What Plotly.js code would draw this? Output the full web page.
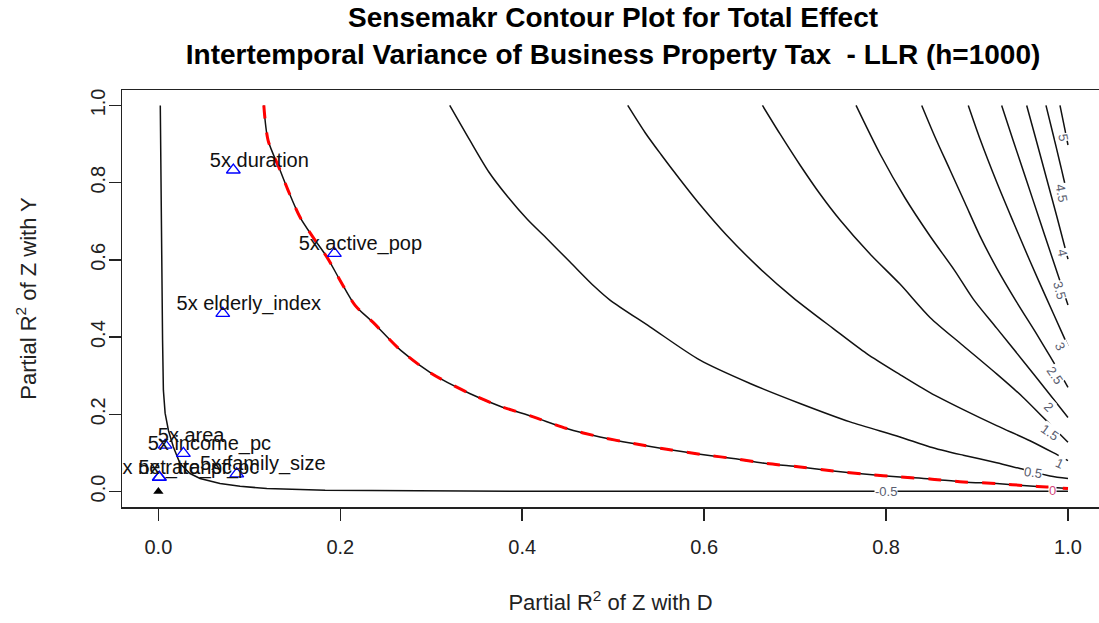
<!DOCTYPE html>
<html><head><meta charset="utf-8">
<script src="https://cdn.plot.ly/plotly-3.0.1.min.js"></script>
<style>html,body{margin:0;padding:0;background:#fff;}#chart{width:1099px;height:623px;}</style>
</head><body><div id="chart"></div>
<script>
// ---- contour lines (x = partial R2 of Z with D, y = partial R2 of Z with Y)
const levM05_x = [0.0021,0.0026,0.0037,0.0046,0.0055,0.0074,0.0110,0.0165,0.0238,0.0348,0.0458,0.0678,0.0898,0.1192,0.1833,0.2657,0.4042,1.0];
const levM05_y = [1.0,0.8328,0.6255,0.3922,0.2626,0.2030,0.1589,0.1156,0.0726,0.0467,0.0337,0.0207,0.0137,0.0078,0.0034,0.0021,0.0008,0.0005];
const lev0_x = [0.1159,0.1206,0.1338,0.1426,0.1558,0.1701,0.1855,0.1998,0.2163,0.2361,0.2665,0.3002,0.3422,0.3756,0.4122,0.4489,0.4855,0.5222,0.5589,0.5955,0.6321,0.6688,0.7055,0.7420,0.7787,0.8153,0.8483,0.8849,0.9216,0.9582,0.9766,1.0];
const lev0_y = [1.0,0.9098,0.8321,0.7802,0.7102,0.6584,0.6065,0.5469,0.4821,0.4380,0.3655,0.3059,0.2540,0.2211,0.1934,0.1633,0.1415,0.1244,0.1096,0.0967,0.0855,0.0726,0.0638,0.0534,0.0448,0.0378,0.0327,0.0249,0.0207,0.0145,0.0119,0.0078];
const lev05_x = [0.3203,0.3422,0.3633,0.3843,0.4053,0.4264,0.4526,0.4800,0.4965,0.5405,0.5955,0.6505,0.7054,0.7604,0.8153,0.8483,0.8849,0.9216,0.9472,0.9802,1.0];
const lev05_y = [1.0,0.9106,0.8276,0.7628,0.7058,0.6566,0.5944,0.5296,0.4959,0.4266,0.3403,0.2799,0.2281,0.1804,0.1415,0.1156,0.0941,0.0747,0.0596,0.0404,0.0337];
const lev1_x = [0.5160,0.5350,0.5526,0.5735,0.5944,0.6240,0.6614,0.6977,0.7420,0.7787,0.8153,0.8483,0.8849,0.9216,0.9582,0.9838,1.0];
const lev1_y = [1.0,0.9300,0.8730,0.8082,0.7460,0.6657,0.5775,0.5024,0.4220,0.3572,0.3028,0.2561,0.2120,0.1706,0.1317,0.1006,0.0799];
const lev15_x = [0.6641,0.6834,0.7054,0.7274,0.7494,0.7824,0.8153,0.8483,0.8845,0.9219,0.9505,0.9692,0.9912,1.0];
const lev15_y = [1.0,0.9262,0.8458,0.7706,0.7032,0.6151,0.5373,0.4510,0.3784,0.3040,0.2444,0.2004,0.1486,0.1278];
const lev2_x = [0.7670,0.7934,0.8209,0.8483,0.8758,0.8959,0.9216,0.9509,0.9783,1.0];
const lev2_y = [1.0,0.8743,0.7603,0.6619,0.5711,0.4985,0.4233,0.3377,0.2566,0.1918];
const lev25_x = [0.8392,0.8538,0.8703,0.8868,0.9033,0.9216,0.9429,0.9656,0.9802,0.9912,1.0];
const lev25_y = [1.0,0.9184,0.8328,0.7473,0.6617,0.5788,0.4933,0.4077,0.3507,0.3066,0.2696];
const lev3_x = [0.8904,0.9033,0.9216,0.9399,0.9582,0.9758,0.9931,1.0];
const lev3_y = [1.0,0.9132,0.8017,0.6980,0.5970,0.5036,0.4129,0.3765];
const lev35_x = [0.9271,0.9399,0.9546,0.9692,0.9802,0.9890,1.0];
const lev35_y = [1.0,0.9080,0.8043,0.7006,0.6229,0.5607,0.4829];
const lev4_x = [0.9546,0.9656,0.9766,0.9876,0.9948,1.0];
const lev4_y = [1.0,0.9054,0.8095,0.7136,0.6488,0.6021];
const lev45_x = [0.9758,0.9838,0.9912,0.9956,1.0];
const lev45_y = [1.0,0.9235,0.8510,0.8069,0.7628];
const lev5_x = [0.9912,0.9967,1.0];
const lev5_y = [1.0,0.9365,0.8976];

// ---- contour labels
const contourLabelText = ["-0.5","0","0.5","1","1.5","2","2.5","3","3.5","4","4.5","5"];
const contourLabelX = [0.800,0.9835,0.9615,0.9912,0.9802,0.9783,0.9857,0.9912,0.9912,0.9945,0.9934,0.9945];
const contourLabelY = [0.0,0.002,0.0492,0.0726,0.154,0.2197,0.3013,0.3748,0.5218,0.6177,0.7732,0.9157];

// ---- benchmark bounds
const benchLabels = ["5x duration","5x active_pop","5x elderly_index","5x area","5x income_pc","5x family_size","5x net_transf_pc","5x rate_pc"];
const benchR2dz = [0.0824,0.1935,0.0708,0.0074,0.0275,0.0862,0.0010,0.0010];
const benchR2yz = [0.8328,0.6169,0.4614,0.1200,0.0990,0.0460,0.0370,0.0370];
const unadjR2dz = [0];
const unadjR2yz = [0];

// ---- axis ticks
const xTickVals = [0,0.2,0.4,0.6,0.8,1.0];
const xTickText = ["0.0","0.2","0.4","0.6","0.8","1.0"];
const yTickVals = [0,0.2,0.4,0.6,0.8,1.0];
const yTickText = ["0.0","0.2","0.4","0.6","0.8","1.0"];

const FONT = "Liberation Sans, Arial, Helvetica, sans-serif";
const lines = [
  [levM05_x, levM05_y, 'linear'],
  [lev0_x, lev0_y, 'spline'],
  [lev05_x, lev05_y, 'spline'],
  [lev1_x, lev1_y, 'spline'],
  [lev15_x, lev15_y, 'spline'],
  [lev2_x, lev2_y, 'spline'],
  [lev25_x, lev25_y, 'spline'],
  [lev3_x, lev3_y, 'spline'],
  [lev35_x, lev35_y, 'spline'],
  [lev4_x, lev4_y, 'spline'],
  [lev45_x, lev45_y, 'spline'],
  [lev5_x, lev5_y, 'spline']
];
const traces = [];
lines.forEach(function(l){
  traces.push({x:l[0], y:l[1], type:'scatter', mode:'lines', line:{color:'#111', width:1.5, shape:l[2], smoothing:0.8}, hoverinfo:'skip'});
});
// threshold (0) contour: red dashed over black
traces.push({x:lev0_x, y:lev0_y, type:'scatter', mode:'lines', line:{color:'#ff0000', width:3, dash:'13px,14px', shape:'spline', smoothing:0.8}, hoverinfo:'skip'});
// benchmark points
traces.push({x:benchR2dz, y:benchR2yz, type:'scatter', mode:'markers', marker:{symbol:'triangle-up-open', size:12, color:'#0000ff', line:{width:1.3, color:'#0000ff'}}, hoverinfo:'skip'});
// benchmark labels (bumped right/up, clipped to the plot region like R)
const bumpX = 0.0286, bumpY = 0.022;
traces.push({x:benchR2dz.map(v=>v+bumpX), y:benchR2yz.map(v=>v+bumpY), text:benchLabels, type:'scatter', mode:'text', textposition:'middle center', cliponaxis:true, textfont:{family:FONT, size:20, color:'#111'}, hoverinfo:'skip'});
// unadjusted estimate
traces.push({x:unadjR2dz, y:unadjR2yz, type:'scatter', mode:'markers', marker:{symbol:'triangle-up', size:9, color:'#000'}, hoverinfo:'skip', cliponaxis:false});

const angles = [0,0,8,25,35,45,55,65,75,78,80,80];
const annotations = contourLabelText.map(function(t,i){
  return {x:contourLabelX[i], y:contourLabelY[i], xref:'x', yref:'y', text:t, showarrow:false,
    textangle:angles[i], bgcolor:'rgba(255,255,255,1)', borderpad:0,
    font:{family:FONT, size:13, color: t==="0" ? '#d2477a' : '#5a5e70'}};
});

const layout = {
  width:1099, height:623,
  margin:{l:122, r:0, t:90, b:116, pad:0},
  paper_bgcolor:'#fff', plot_bgcolor:'#fff',
  showlegend:false, hovermode:false,
  font:{family:FONT, color:'#111'},
  title:{text:'Sensemakr Contour Plot for Total Effect<br>Intertemporal Variance of Business Property Tax \u00a0- LLR (h=1000)',
    font:{family:FONT, size:28, color:'#000', weight:'bold'},
    xref:'paper', x:0.5026, xanchor:'center', yref:'container', y:0.9565, yanchor:'top'},
  xaxis:{range:[-0.04,1.0341], tickmode:'array', tickvals:xTickVals, ticktext:xTickText,
    ticks:'outside', ticklen:12, tickwidth:1.5, tickcolor:'#222',
    showline:true, linecolor:'#222', linewidth:1.5, mirror:true,
    showgrid:false, zeroline:false, tickfont:{family:FONT, size:20, color:'#222'}, ticklabelstandoff:9,
    title:{text:'Partial R<sup>2</sup> of Z with D', font:{family:FONT, size:22, color:'#222'}, standoff:38}, fixedrange:true},
  yaxis:{range:[-0.04,1.04], tickmode:'array', tickvals:yTickVals, ticktext:yTickText, tickangle:-90,
    ticks:'outside', ticklen:12, tickwidth:1.5, tickcolor:'#222',
    showline:true, linecolor:'#222', linewidth:1.5, mirror:false,
    showgrid:false, zeroline:false, tickfont:{family:FONT, size:20, color:'#222'}, ticklabelstandoff:-4,
    title:{text:'Partial R<sup>2</sup> of Z with Y', font:{family:FONT, size:22, color:'#222'}, standoff:44}, fixedrange:true},
  annotations:annotations
};
Plotly.newPlot('chart', traces, layout, {displayModeBar:false, staticPlot:true});
</script>
</body></html>
